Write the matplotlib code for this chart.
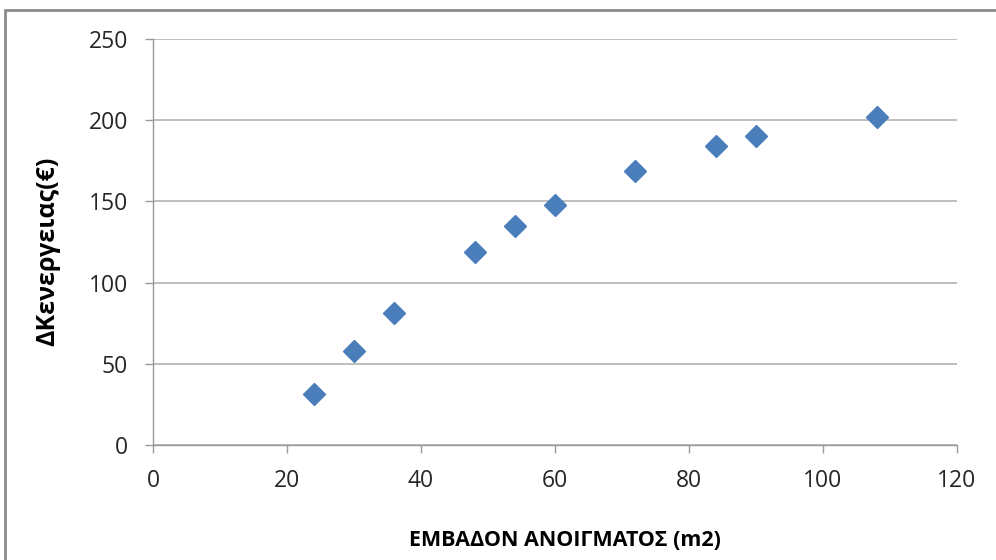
import matplotlib.pyplot as plt
from matplotlib.patches import Rectangle

# data
area_m2 = [24, 30, 36, 48, 54, 60, 72, 84, 90, 108]
delta_energy = [31.5, 58, 81.5, 119, 135, 148, 169, 184, 190, 202]

x_ticks = [0, 20, 40, 60, 80, 100, 120]
y_ticks = [0, 50, 100, 150, 200, 250]

plt.rcParams["font.family"] = ["Open Sans", "DejaVu Sans"]

fig = plt.figure(figsize=(9.96, 5.6), dpi=100)
# plot area placed to match the screenshot (pixels -> figure fractions)
ax = fig.add_axes([153 / 996, 1 - 445 / 560, (957 - 153) / 996, (445 - 39) / 560])

ax.plot(area_m2, delta_energy, linestyle="none", marker="D", markersize=11.5,
        color="#4A7EBB", markeredgecolor="#4A7EBB", zorder=3)

ax.set_xlim(0, 120)
ax.set_ylim(0, 250)
ax.set_xticks(x_ticks)
ax.set_yticks(y_ticks)
ax.grid(axis="y", color="#b3b3b3", linewidth=1.2)
ax.set_axisbelow(True)

for side in ["top", "right"]:
    ax.spines[side].set_visible(False)
for side in ["left", "bottom"]:
    ax.spines[side].set_color("#9a9a9a")
    ax.spines[side].set_linewidth(1.0)

ax.tick_params(axis="both", colors="#9a9a9a", length=6, width=1.0,
               labelsize=16.5, labelcolor="#262626")
ax.tick_params(axis="x", pad=11)
ax.tick_params(axis="y", pad=12)

ax.set_xlabel("ΕΜΒΑΔΟΝ ΑΝΟΙΓΜΑΤΟΣ (m2)", fontsize=15.5, fontweight="bold")
ax.set_ylabel("ΔΚενεργειας(€)", fontsize=18, fontweight="bold")
ax.xaxis.set_label_coords((565 - 153) / (957 - 153), -(541 - 445) / (445 - 39))
ax.xaxis.label.set_verticalalignment("center")
ax.yaxis.set_label_coords(-(153 - 48) / (957 - 153), (445 - 251) / (445 - 39))
ax.yaxis.label.set_verticalalignment("center")

# outer chart frame, cut off on the right and bottom like the screenshot
fig.patches.append(Rectangle((5 / 996, -0.1), 1.2, 1 - 10 / 560 + 0.1,
                             transform=fig.transFigure, fill=False,
                             edgecolor="#8c8c8c", linewidth=2.0))

plt.savefig("out.png", dpi=100)
